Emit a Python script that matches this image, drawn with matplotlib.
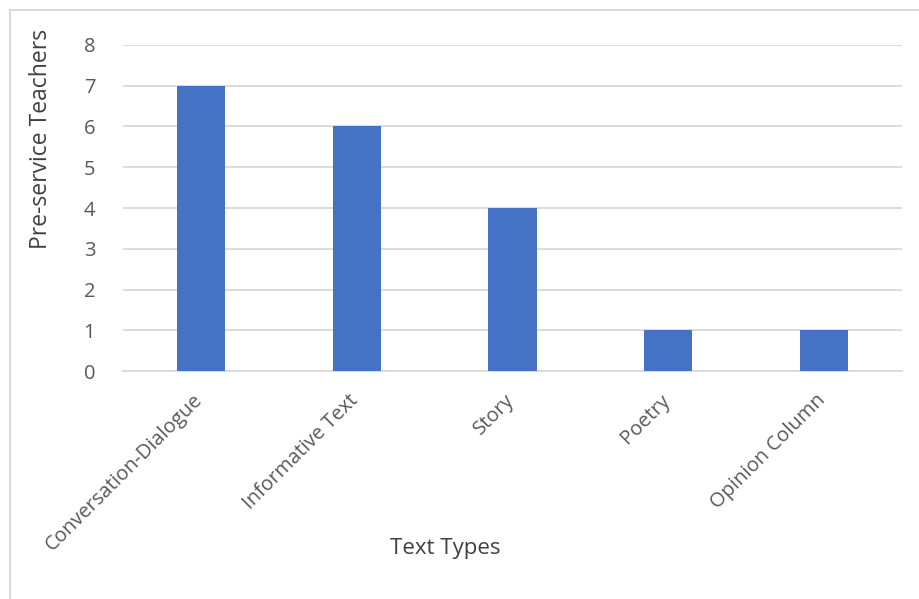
import matplotlib.pyplot as plt
import matplotlib.transforms as mtransforms
from matplotlib.lines import Line2D

# Text types chosen by pre-service teachers
text_types = ["Conversation-Dialogue", "Informative Text", "Story", "Poetry", "Opinion Column"]
teachers = [7, 6, 4, 1, 1]
y_ticks = [0, 1, 2, 3, 4, 5, 6, 7, 8]

plt.rcParams['font.family'] = ['Open Sans', 'DejaVu Sans']
tick_color = "#595959"
title_color = "#404040"
bar_color = "#4472C4"
grid_color = "#D9D9D9"

fig = plt.figure(figsize=(9.2, 5.99), dpi=100)
ax = fig.add_axes([0.1337, 0.3806, 0.8467, 0.5443])

x = list(range(len(text_types)))
ax.bar(x, teachers, width=0.31, color=bar_color, zorder=3)

ax.set_xlim(-0.5, len(text_types) - 0.5)
ax.set_ylim(0, 8)
ax.set_yticks(y_ticks)
ax.set_yticklabels([str(v) for v in y_ticks])
ax.yaxis.grid(True, color=grid_color, linewidth=1.3, zorder=0)
ax.set_axisbelow(True)

ax.set_xticks(x)
ax.set_xticklabels(text_types, rotation=45, ha='right', va='top',
                   rotation_mode='anchor')
ax.tick_params(axis='x', length=0, pad=14, labelsize=14.5, labelcolor=tick_color)
ax.tick_params(axis='y', length=0, pad=20, labelsize=14.5, labelcolor=tick_color)

# nudge the slanted labels a little left
shift = mtransforms.ScaledTranslation(-0.08, 0, fig.dpi_scale_trans)
for lbl in ax.get_xticklabels():
    lbl.set_transform(lbl.get_transform() + shift)

for side in ['top', 'right', 'left']:
    ax.spines[side].set_visible(False)
ax.spines['bottom'].set_color(grid_color)
ax.spines['bottom'].set_linewidth(1.3)

fig.text(0.045, 0.768, "Pre-service Teachers", rotation=90, ha='center', va='center',
         fontsize=16.5, color=title_color)
fig.text(0.484, 0.085, "Text Types", ha='center', va='center',
         fontsize=16, color=title_color)

# chart area frame
fig.add_artist(Line2D([0.011, 0.011], [0.0, 0.983], transform=fig.transFigure,
                      color=grid_color, linewidth=1.5))
fig.add_artist(Line2D([0.011, 1.0], [0.983, 0.983], transform=fig.transFigure,
                      color=grid_color, linewidth=1.5))

fig.savefig("out.png", dpi=100)
